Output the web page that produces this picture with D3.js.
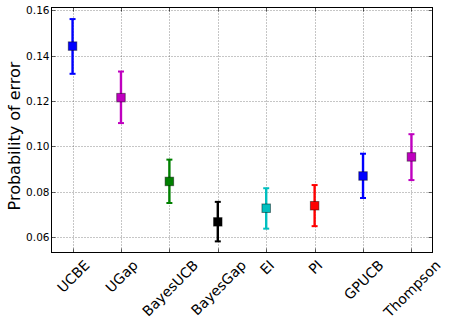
<!DOCTYPE html>
<html>
<head>
<meta charset="utf-8">
<script src="https://cdn.jsdelivr.net/npm/d3@7"></script>
<style>
  body { margin: 0; background: #fff; }
  text { font-family: "DejaVu Sans", sans-serif; fill: #000; }
</style>
</head>
<body>
<svg id="chart" width="449" height="334"></svg>
<script>
// methods along the x axis
var methods = ["UCBE", "UGap", "BayesUCB", "BayesGap", "EI", "PI", "GPUCB", "Thompson"];
// mean probability of error
var meanErr = [0.1442, 0.1215, 0.0846, 0.0668, 0.0728, 0.0739, 0.0870, 0.0954];
var upperErr = [0.1561, 0.1330, 0.0942, 0.0756, 0.0816, 0.0830, 0.0968, 0.1054];
var lowerErr = [0.1320, 0.1103, 0.0751, 0.0582, 0.0638, 0.0649, 0.0773, 0.0852];
var methodColors = ["#0000ff", "#bf00bf", "#008000", "#000000", "#00bfbf", "#ff0000", "#0000ff", "#bf00bf"];
var yTicks = [0.06, 0.08, 0.10, 0.12, 0.14, 0.16];

var svg = d3.select("#chart");
// note: "top" is taken by window.top, so use plot* names
var plotL = 51.5, plotR = 432.5, plotT = 7.5, plotB = 252.5;

var x = d3.scaleLinear().domain([-0.435, methods.length - 1 + 0.435]).range([plotL, plotR]);
var y = d3.scaleLinear().domain([0.0533, 0.1612]).range([plotB, plotT]);

svg.append("rect").attr("width", 449).attr("height", 334).attr("fill", "#fff");

// grid
var grid = svg.append("g")
    .attr("stroke", "#000")
    .attr("stroke-width", 0.6)
    .attr("stroke-dasharray", "1,2")
    .attr("opacity", 0.75);
grid.selectAll(".gy").data(yTicks).enter().append("line")
    .attr("x1", plotL).attr("x2", plotR)
    .attr("y1", function(d){ return Math.round(y(d)) + 0.5; })
    .attr("y2", function(d){ return Math.round(y(d)) + 0.5; });
grid.selectAll(".gx").data(methods).enter().append("line")
    .attr("y1", plotT).attr("y2", plotB)
    .attr("x1", function(d, i){ return Math.round(x(i)) + 0.5; })
    .attr("x2", function(d, i){ return Math.round(x(i)) + 0.5; });

// inward ticks on all four sides
var ticks = svg.append("g").attr("stroke", "#000").attr("stroke-width", 0.6);
yTicks.forEach(function(d){
  var yy = Math.round(y(d)) + 0.5;
  ticks.append("line").attr("x1", plotL).attr("x2", plotL + 4).attr("y1", yy).attr("y2", yy);
  ticks.append("line").attr("x1", plotR - 4).attr("x2", plotR).attr("y1", yy).attr("y2", yy);
});
methods.forEach(function(d, i){
  var xx = Math.round(x(i)) + 0.5;
  ticks.append("line").attr("x1", xx).attr("x2", xx).attr("y1", plotB).attr("y2", plotB - 4);
  ticks.append("line").attr("x1", xx).attr("x2", xx).attr("y1", plotT).attr("y2", plotT + 4);
});

// y axis labels
var yAxis = d3.axisLeft(y).tickValues(yTicks).tickFormat(d3.format(".2f")).tickSize(0).tickPadding(2);
var ya = svg.append("g").attr("transform", "translate(" + plotL + ",0)").call(yAxis);
ya.select(".domain").remove();
ya.selectAll("text").style("font-family", "DejaVu Sans").style("font-size", "10.5px").attr("fill", "#000");

svg.append("text")
    .attr("transform", "translate(19.5," + ((plotT + plotB) / 2 + 6) + ") rotate(-90)")
    .attr("text-anchor", "middle")
    .style("font-size", "16px")
    .text("Probability of error");

// x labels, rotated 45 deg, box centred on each tick
var xl = svg.append("g");
methods.forEach(function(d, i){
  var g = xl.append("g");
  var t = g.append("text")
      .attr("text-anchor", "middle")
      .attr("dy", "0.28em")
      .style("font-size", "14px")
      .text(d);
  var len = t.node().getComputedTextLength();
  var half = (len + 14) / (2 * Math.SQRT2);
  g.attr("transform", "translate(" + (x(i) + 1.5) + "," + (258.5 + half) + ") rotate(-45)");
});

// error bars
var bars = svg.append("g");
methods.forEach(function(d, i){
  var cx = x(i);
  var c = methodColors[i];
  var eb = bars.append("g").attr("stroke", c).attr("stroke-width", 2.4);
  eb.append("line").attr("x1", cx).attr("x2", cx).attr("y1", y(lowerErr[i])).attr("y2", y(upperErr[i]));
  eb.append("line").attr("x1", cx - 3).attr("x2", cx + 3).attr("y1", y(lowerErr[i])).attr("y2", y(lowerErr[i])).attr("stroke-width", 2);
  eb.append("line").attr("x1", cx - 3).attr("x2", cx + 3).attr("y1", y(upperErr[i])).attr("y2", y(upperErr[i])).attr("stroke-width", 2);
  bars.append("rect")
      .attr("x", cx - 4.25).attr("y", y(meanErr[i]) - 4.25)
      .attr("width", 8.5).attr("height", 8.5)
      .attr("fill", c)
      .attr("stroke", "rgba(0,0,0,0.45)")
      .attr("stroke-width", 1);
});

// frame
svg.append("rect")
    .attr("x", plotL).attr("y", plotT)
    .attr("width", plotR - plotL).attr("height", plotB - plotT)
    .attr("fill", "none").attr("stroke", "#000").attr("stroke-width", 1);
</script>
</body>
</html>
